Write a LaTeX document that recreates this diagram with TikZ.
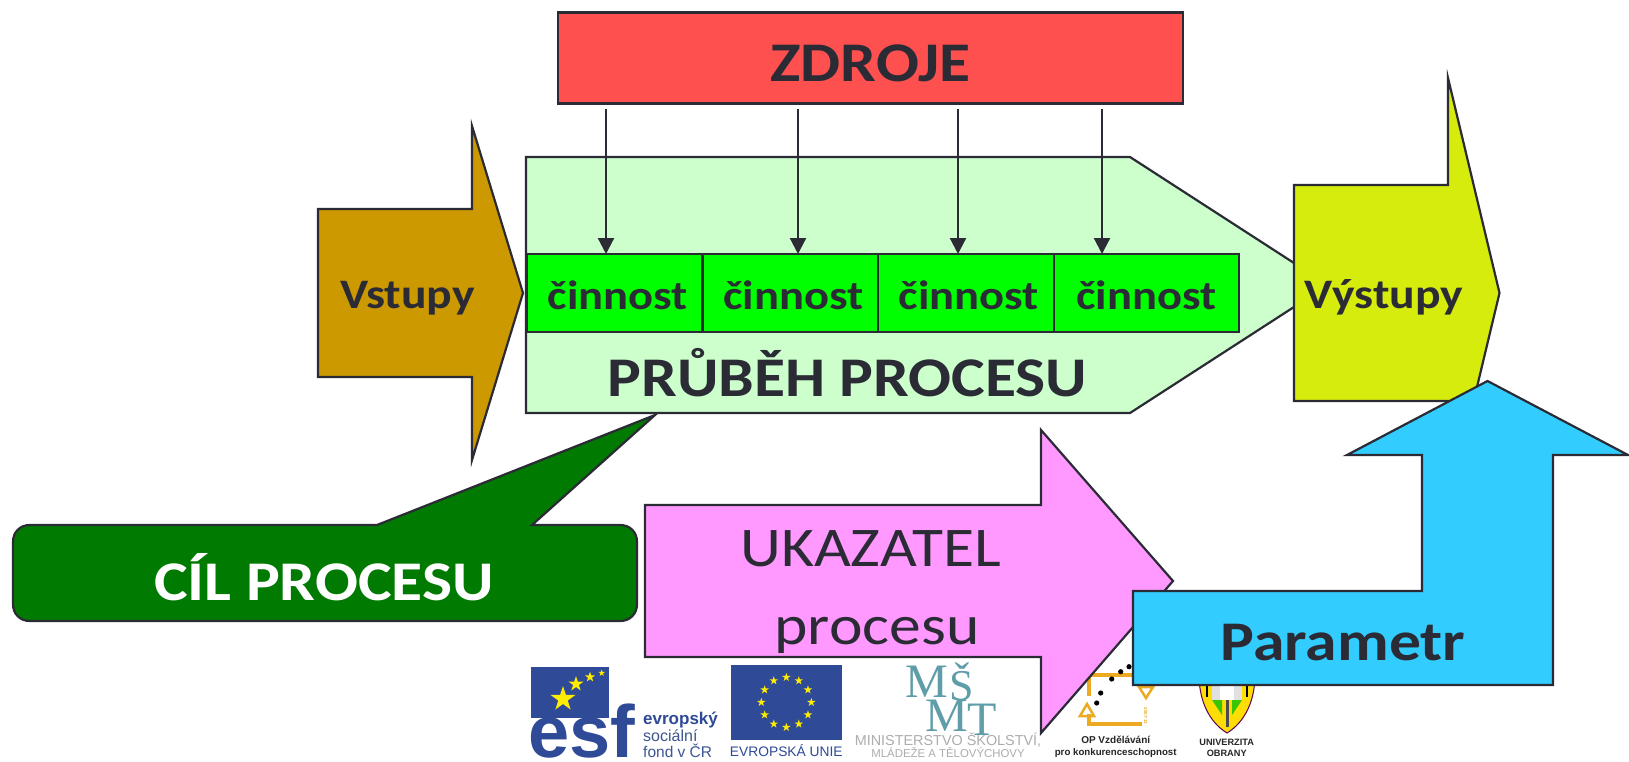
\documentclass[tikz,border=0pt]{standalone}
\usepackage{fontspec}
\setmainfont[FakeStretch=1.135]{Carlito}
\newfontfamily\arialf{Liberation Sans}
\newfontfamily\timesf{Liberation Serif}
\usetikzlibrary{arrows.meta,calc}
\definecolor{ink}{HTML}{2B2B36}
\definecolor{goldc}{HTML}{CC9900}
\definecolor{lgreen}{HTML}{CCFFCC}
\definecolor{bgreen}{HTML}{00FF00}
\definecolor{redc}{HTML}{FF5050}
\definecolor{yelc}{HTML}{D6EC0C}
\definecolor{bluec}{HTML}{33CCFF}
\definecolor{pinkc}{HTML}{FF99FF}
\definecolor{dgreen}{HTML}{007A00}
\definecolor{esfblue}{HTML}{2F4A96}
\definecolor{stary}{HTML}{FFEC00}
\definecolor{teal2}{HTML}{5F9DA8}
\definecolor{opor}{HTML}{EBAA22}
\newcommand{\fsz}[1]{\fontsize{#1}{#1}\selectfont}
\newcommand{\ustar}[3]{\fill[stary] ({#1+#3*cos(90)},{#2-#3*sin(90)})
  \foreach \i in {1,...,9}{ -- ({#1+(#3*(1-0.618*mod(\i,2)))*cos(90+36*\i)},{#2-(#3*(1-0.618*mod(\i,2)))*sin(90+36*\i)}) } -- cycle;}
\tikzset{
  x=1pt,y=-1pt,
  shape line/.style={draw=ink,line width=2.2pt,line join=miter,miter limit=20},
  act/.style={shape line,fill=bgreen,minimum width=176pt,minimum height=78pt,inner sep=0pt,outer sep=0pt,
     font=\bfseries\fsz{41},text=ink,text height=40pt,text depth=8pt},
  lab/.style={anchor=base,inner sep=0pt,text=ink},
  res/.style={-{Triangle[width=16pt,length=16pt]},draw=ink,line width=2.2pt},
  tiny/.style={anchor=base,inner sep=0pt},
}
\begin{document}
\begin{tikzpicture}
\useasboundingbox (0,0) rectangle (1629,761);
\fill[white] (0,0) rectangle (1629,761);
% process
\draw[shape line,fill=lgreen] (526,157) -- (1130,157) -- (1328,285) -- (1130,413) -- (526,413) -- cycle;
% activities
\node[act,minimum width=176pt] (a1) at (615,293) {\hspace*{6pt}činnost};
\node[act,minimum width=176pt] (a2) at (790.5,293) {\hspace*{6pt}činnost};
\node[act,minimum width=176pt] (a3) at (966,293) {\hspace*{6pt}činnost};
\node[act,minimum width=185pt] (a4) at (1146.5,293) {činnost};
% resources
\node[shape line,fill=redc,minimum width=625pt,minimum height=91pt,inner sep=0pt,font=\bfseries\fsz{56},text=ink,text height=50pt,text depth=4pt] (zdroje) at (870.5,58) {ZDROJE};
\coordinate (s1) at (606,109);
\coordinate (s2) at (798,109);
\coordinate (s3) at (958,109);
\coordinate (s4) at (1102,109);
\draw[res] (s1) -- (s1 |- a1.north);
\draw[res] (s2) -- (s2 |- a2.north);
\draw[res] (s3) -- (s3 |- a3.north);
\draw[res] (s4) -- (s4 |- a4.north);
\node[lab,font=\bfseries\fsz{56}] (prubeh) at (847.5,396) {PRŮBĚH PROCESU};
% vstupy
\draw[shape line,fill=goldc] (318,209) -- (472,209) -- (472,126) -- (523,293) -- (472,460) -- (472,377) -- (318,377) -- cycle;
\node[lab,font=\bfseries\fsz{42}] (vstupy) at (407.5,308) {Vstupy};
% vystupy
\draw[shape line,fill=yelc] (1294,185) -- (1448,185) -- (1448,78) -- (1499.5,293) -- (1448,508) -- (1448,401) -- (1294,401) -- cycle;
\node[lab,font=\bfseries\fsz{42}] (vystupy) at (1384,308) {Výstupy};
% callout
\draw[shape line,fill=dgreen] (377,525) -- (655,415) -- (532,525) -- (620,525)
  .. controls (630,525) and (637,532) .. (637,542) -- (637,604)
  .. controls (637,614) and (630,621) .. (620,621) -- (30,621)
  .. controls (20,621) and (13,614) .. (13,604) -- (13,542)
  .. controls (13,532) and (20,525) .. (30,525) -- cycle;
\node[anchor=base,inner sep=0pt,text=white,font=\bfseries\fsz{56}] (cil) at (324,600) {CÍL PROCESU};
% ---- logos ----
\fill[esfblue] (531,667) rectangle (608.5,718);
\ustar{563}{699}{13}
\ustar{576}{684}{8}
\ustar{590}{677}{5.5}
\ustar{601.7}{673}{3.5}
\node[tiny,text=esfblue,font=\arialf\bfseries\fsz{74}] (esf) at (582,757) {esf};
\node[tiny,anchor=base west,text=esfblue,font=\arialf\bfseries\fsz{17}] (esf1) at (643,724) {evropský};
\node[tiny,anchor=base west,text=esfblue!80!gray,font=\arialf\fsz{16}] (esf2) at (643,741) {sociální};
\node[tiny,anchor=base west,text=esfblue!80!gray,font=\arialf\fsz{15.5}] (esf3) at (643,757) {fond v ČR};
\fill[esfblue] (730.7,665) rectangle (841.7,740);
\foreach \a in {0,30,...,330}{ \ustar{786.3+25*cos(\a)}{702.3+25*sin(\a)}{4.5} }
\node[tiny,text=esfblue,font=\arialf\fsz{13.8}] (eu) at (786.3,756) {EVROPSKÁ UNIE};
\node[tiny,text=teal2,font=\timesf\fsz{48}] (m1) at (927,697) {M};
\node[tiny,text=teal2,font=\timesf\fsz{44}] (m2) at (962,700) {Š};
\node[tiny,text=teal2,font=\timesf\fsz{48}] (m3) at (947,731) {M};
\node[tiny,text=teal2,font=\timesf\fsz{48}] (m4) at (982,735) {T};
\node[tiny,text=black!32,font=\arialf\fsz{14.4}] (ms1) at (948,745) {MINISTERSTVO ŠKOLSTVÍ,};
\node[tiny,text=black!32,font=\arialf\fsz{11.4}] (ms2) at (948,757) {MLÁDEŽE A TĚLOVÝCHOVY};
% OP logo
\draw[opor,line width=4.5pt] (1089,696) -- (1089,675) -- (1150,675);
\draw[opor,line width=4.5pt] (1089,714) -- (1089,724) -- (1142,724);
\draw[opor,line width=2.5pt] (1087,704) -- (1094,716) -- (1080,716) -- cycle;
\draw[opor,line width=2.5pt] (1146,698) -- (1139,687) -- (1153,687) -- cycle;
\foreach \dx/\dy in {1096.7/703,1100.7/693,1111.7/679,1120.7/671.7,1129/666.7}{\fill[black] (\dx,\dy) circle (2.6);}
\node[tiny,rotate=-90,text=opor,font=\arialf\bfseries\fsz{4.5}] (op0) at (1144,716) {2007-13};
\node[tiny,text=black!85,font=\arialf\bfseries\fsz{10}] (op1) at (1115.7,743) {OP Vzdělávání};
\node[tiny,text=black!85,font=\arialf\bfseries\fsz{9.7}] (op2) at (1115.7,755.5) {pro konkurenceschopnost};
% UO shield
\draw[draw=violet!70!black,line width=1pt,fill=yellow!80!orange] (1199,670) -- (1255,670) .. controls (1256,700) and (1245,722) .. (1227,733) .. controls (1209,722) and (1198,700) .. (1199,670) -- cycle;
\fill[black!12] (1212,670) rectangle (1242,700);
\fill[white] (1220,670) rectangle (1234,700);
\draw[black,line width=1.5pt] (1207,670) -- (1207,697) (1247,670) -- (1247,697);
\fill[green!55!olive] (1212,700) -- (1222,700) -- (1222,715) -- cycle;
\fill[green!55!olive] (1242,700) -- (1232,700) -- (1232,715) -- cycle;
\draw[black!70,line width=3pt] (1227,700) -- (1227,727);
\node[tiny,text=black!85,font=\arialf\bfseries\fsz{9.2}] (uo1) at (1226.7,745) {UNIVERZITA};
\node[tiny,text=black!85,font=\arialf\bfseries\fsz{9.2}] (uo2) at (1226.7,756.5) {OBRANY};
% ---- pink arrow ----
\draw[shape line,fill=pinkc] (645,505) -- (1041,505) -- (1041,430) -- (1173,581) -- (1041,733) -- (1041,657) -- (645,657) -- cycle;
\node[lab,font=\fsz{56}] (ukaz) at (870.5,566) {UKAZATEL};
\node[lab,font=\fsz{56}] (proc) at (877,644) {procesu};
% ---- blue arrow ----
\draw[shape line,fill=bluec] (1133,591) -- (1422,591) -- (1422,455) -- (1347,455) -- (1487.5,381) -- (1628,455) -- (1553,455) -- (1553,685) -- (1133,685) -- cycle;
\node[lab,font=\bfseries\fsz{56}] (param) at (1343,660) {Parametr};
\end{tikzpicture}
\end{document}
